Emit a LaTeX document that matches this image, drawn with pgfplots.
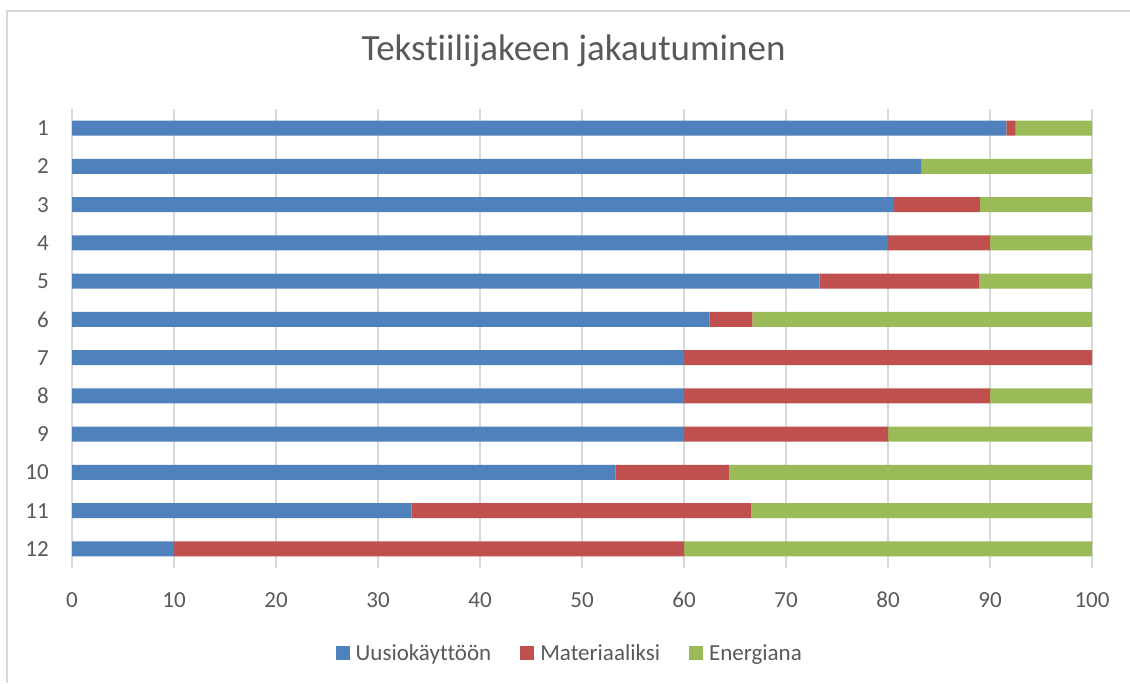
\documentclass[border=0pt]{standalone}
\usepackage{pgfplots}
\pgfplotsset{compat=1.18}
\usepackage{fontspec}
\setmainfont{Carlito}[Ligatures=NoCommon]
\definecolor{txt}{RGB}{89,89,89}
\definecolor{grd}{RGB}{217,217,217}
\definecolor{cblue}{RGB}{79,129,189}
\definecolor{cred}{RGB}{192,80,77}
\definecolor{cgreen}{RGB}{155,187,89}
\begin{document}
\begin{tikzpicture}[x=1pt,y=1pt]
\useasboundingbox (0,0) rectangle (1130,683);
\draw[grd, line width=2pt] (7,0) -- (7,672) -- (1130,672);
\begin{axis}[
  at={(72pt,115pt)}, anchor=south west,
  scale only axis, width=1020pt, height=459pt,
  xbar stacked, bar width=15pt,
  xmin=0, xmax=100, ymin=0.5, ymax=12.5,
  y dir=reverse,
  xtick={0,10,...,100}, ytick={1,...,12},
  axis line style={draw=none},
  major tick length=0pt,
  xmajorgrids, major grid style={grd, line width=1.5pt},
  /pgf/number format/assume math mode=true,
  tick label style={font=\fontsize{23}{26}\selectfont, text=txt, inner sep=0pt},
  xticklabel style={anchor=north, yshift=-24pt},
  yticklabel style={anchor=east, xshift=-23pt},
  title={Tekstiilijakeen jakautuminen},
  title style={at={(0.4917,1.0915)}, anchor=base, font=\fontsize{37}{42}\selectfont, text=txt},
  legend columns=3,
  legend style={at={(0.487,-0.185)}, anchor=center, draw=none, fill=none,
    font=\fontsize{23}{26}\selectfont, text=txt,
    nodes={inner sep=0pt},
    /tikz/every odd column/.append style={column sep=6pt},
    /tikz/every even column/.append style={column sep=29pt}},
  legend image code/.code={\fill[#1] (0pt,-7pt) rectangle (14pt,7pt);},
]
\addplot[fill=cblue, draw=none] coordinates {
(91.6,1) (83.3,2) (80.6,3) (80,4) (73.3,5) (62.5,6) (60,7) (60,8) (60,9) (53.3,10) (33.3,11) (10,12)};
\addplot[fill=cred, draw=none] coordinates {
(0.9,1) (0,2) (8.4,3) (10,4) (15.6,5) (4.2,6) (40,7) (30,8) (20,9) (11.1,10) (33.3,11) (50,12)};
\addplot[fill=cgreen, draw=none] coordinates {
(7.5,1) (16.7,2) (11.0,3) (10,4) (11.1,5) (33.3,6) (0,7) (10,8) (20,9) (35.6,10) (33.4,11) (40,12)};
\legend{Uusiokäyttöön, Materiaaliksi, Energiana}
\end{axis}
\end{tikzpicture}
\end{document}
